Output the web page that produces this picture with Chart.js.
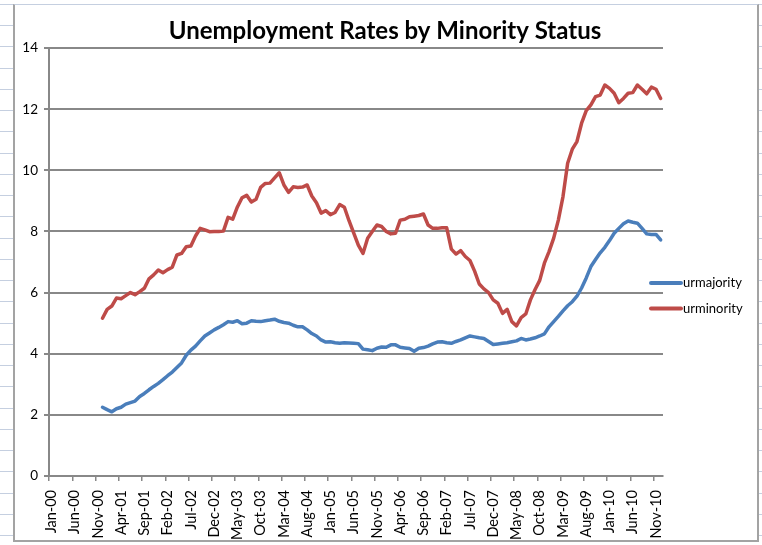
<!DOCTYPE html>
<html>
<head>
<script src="https://cdn.jsdelivr.net/npm/chart.js@4"></script>
<style>
  body {
    margin: 0;
    width: 762px;
    height: 545px;
    position: relative;
    overflow: hidden;
    background-color: #fff;
    background-image: repeating-linear-gradient(to bottom, #c5cfe0 0px, #c5cfe0 1px, transparent 1px, transparent 21.24px);
    background-position: 0 4px;
  }
  #frame {
    position: absolute;
    left: 13px;
    top: 4px;
    width: 746px;
    height: 538px;
    box-sizing: border-box;
    background: #fff;
    border: 2px solid #a3a3a3;
    border-top: 1px solid #c5cfe0;
  }
  #chart { position: absolute; left: 0; top: 0; }
</style>
</head>
<body>
<div id="frame"></div>
<canvas id="chart" width="762" height="545"></canvas>
<script>
  // month labels Jan-00 .. Dec-10, one label shown every 5 months
  const months = ['Jan', 'Feb', 'Mar', 'Apr', 'May', 'Jun', 'Jul', 'Aug', 'Sep', 'Oct', 'Nov', 'Dec'];
  const years = ['00', '01', '02', '03', '04', '05', '06', '07', '08', '09', '10'];
  const labelEvery = 5;
  const firstMonth = 'Dec-00';

  // monthly rates, Dec-00 .. Dec-10
  const urmajority = [
    2.25, 2.17, 2.10, 2.20, 2.25, 2.35, 2.40, 2.45, 2.60, 2.70, 2.82, 2.93,
    3.03, 3.15, 3.28, 3.40, 3.55, 3.70, 3.95, 4.12, 4.25, 4.42, 4.58, 4.68,
    4.78, 4.86, 4.95, 5.05, 5.03, 5.08, 4.98, 5.00, 5.08, 5.06, 5.05, 5.08,
    5.10, 5.13, 5.06, 5.02, 5.00, 4.93, 4.88, 4.88, 4.78, 4.66, 4.58, 4.45,
    4.38, 4.39, 4.36, 4.34, 4.36, 4.35, 4.34, 4.33, 4.15, 4.13, 4.10, 4.18,
    4.22, 4.21, 4.29, 4.29, 4.21, 4.19, 4.17, 4.08, 4.18, 4.20, 4.25, 4.32,
    4.38, 4.39, 4.36, 4.34, 4.40, 4.45, 4.52, 4.58, 4.55, 4.52, 4.50, 4.40,
    4.30, 4.32, 4.34, 4.36, 4.39, 4.42, 4.50, 4.45, 4.48, 4.52, 4.58, 4.65,
    4.88, 5.05, 5.22, 5.40, 5.57, 5.70, 5.88, 6.15, 6.48, 6.85, 7.08, 7.30,
    7.48, 7.70, 7.94, 8.10, 8.25, 8.34, 8.30, 8.27, 8.10, 7.92, 7.90, 7.90,
    7.72
  ];
  const urminority = [
    5.16, 5.45, 5.56, 5.82, 5.80, 5.90, 6.00, 5.93, 6.03, 6.14, 6.45, 6.58,
    6.74, 6.65, 6.75, 6.83, 7.23, 7.28, 7.50, 7.52, 7.85, 8.10, 8.05, 7.99,
    8.00, 8.00, 8.01, 8.46, 8.40, 8.80, 9.10, 9.18, 8.96, 9.05, 9.44, 9.57,
    9.58, 9.75, 9.92, 9.52, 9.28, 9.46, 9.44, 9.45, 9.52, 9.16, 8.94, 8.60,
    8.68, 8.55, 8.62, 8.88, 8.79, 8.35, 7.95, 7.55, 7.28, 7.78, 8.00, 8.21,
    8.16, 8.00, 7.92, 7.94, 8.37, 8.40, 8.48, 8.50, 8.52, 8.57, 8.21, 8.10,
    8.10, 8.12, 8.12, 7.42, 7.26, 7.37, 7.18, 7.05, 6.70, 6.28, 6.12, 6.00,
    5.76, 5.65, 5.32, 5.45, 5.05, 4.91, 5.18, 5.30, 5.76, 6.10, 6.40, 6.96,
    7.34, 7.78, 8.37, 9.14, 10.23, 10.69, 10.94, 11.54, 11.95, 12.14, 12.41, 12.46,
    12.79, 12.68, 12.52, 12.21, 12.35, 12.52, 12.54, 12.79, 12.65, 12.50, 12.72, 12.65,
    12.35
  ];

  const yMin = 0, yMax = 14, yStep = 2;

  const labels = [];
  years.forEach(y => months.forEach(m => labels.push(m + '-' + y)));
  const lead = labels.indexOf(firstMonth);
  const pad = arr => Array(lead).fill(null).concat(arr);

  const axisGray = '#888888';
  const font = 'Lato, "Open Sans", sans-serif';

  // legend drawn beside the plot, like the Excel one
  const sideLegend = {
    id: 'sideLegend',
    afterDraw(chart) {
      const { ctx, chartArea } = chart;
      ctx.save();
      ctx.font = '13px ' + font;
      ctx.textBaseline = 'middle';
      ctx.lineCap = 'round';
      ctx.lineWidth = 4;
      chart.data.datasets.forEach((ds, i) => {
        const x = chartArea.right - 12;
        const y = chartArea.top + 235 + i * 25.5;
        ctx.strokeStyle = ds.borderColor;
        ctx.beginPath();
        ctx.moveTo(x, y);
        ctx.lineTo(x + 30, y);
        ctx.stroke();
        ctx.fillStyle = '#000';
        ctx.fillText(ds.label, x + 32, y);
      });
      ctx.restore();
    }
  };

  new Chart(document.getElementById('chart'), {
    type: 'line',
    data: {
      labels: labels,
      datasets: [
        { label: 'urmajority', data: pad(urmajority), borderColor: '#4a7ebb', backgroundColor: '#4a7ebb' },
        { label: 'urminority', data: pad(urminority), borderColor: '#be4b48', backgroundColor: '#be4b48' }
      ]
    },
    options: {
      responsive: false,
      animation: false,
      layout: { padding: { left: 8, right: 0, top: 0, bottom: 0 } },
      elements: {
        point: { radius: 0 },
        line: { borderWidth: 3.5, tension: 0, borderCapStyle: 'round', borderJoinStyle: 'round' }
      },
      plugins: {
        legend: { display: false },
        tooltip: { enabled: false },
        title: {
          display: true,
          text: 'Unemployment Rates by Minority Status',
          color: '#000',
          font: { family: font, size: 24, weight: 'bold' },
          padding: { top: 16.6, bottom: 2.6 }
        }
      },
      scales: {
        x: {
          offset: true,
          grid: {
            offset: true,
            drawOnChartArea: false,
            tickLength: 5,
            lineWidth: 1.5,
            color: ctx => (ctx.index % labelEvery === 0 ? axisGray : 'rgba(0,0,0,0)')
          },
          border: { color: axisGray, width: 2 },
          ticks: {
            autoSkip: false,
            minRotation: 90,
            maxRotation: 90,
            padding: 9,
            color: '#000',
            font: { family: font, size: 14.5 },
            callback: function (v, i) { return i % labelEvery === 0 ? this.getLabelForValue(v) : ''; }
          },
          afterFit: s => { s.height = 69; }
        },
        y: {
          min: yMin,
          max: yMax,
          grid: { color: axisGray, lineWidth: 2, tickLength: 5 },
          border: { color: axisGray, width: 2 },
          ticks: {
            stepSize: yStep,
            padding: 6,
            color: '#000',
            font: { family: font, size: 13.5 }
          },
          afterFit: s => { s.width = 41; }
        },
        spacer: {
          position: 'right',
          display: true,
          grid: { display: false },
          border: { display: false },
          ticks: { display: false },
          afterFit: s => { s.width = 99; }
        }
      }
    },
    plugins: [sideLegend]
  });
</script>
</body>
</html>
